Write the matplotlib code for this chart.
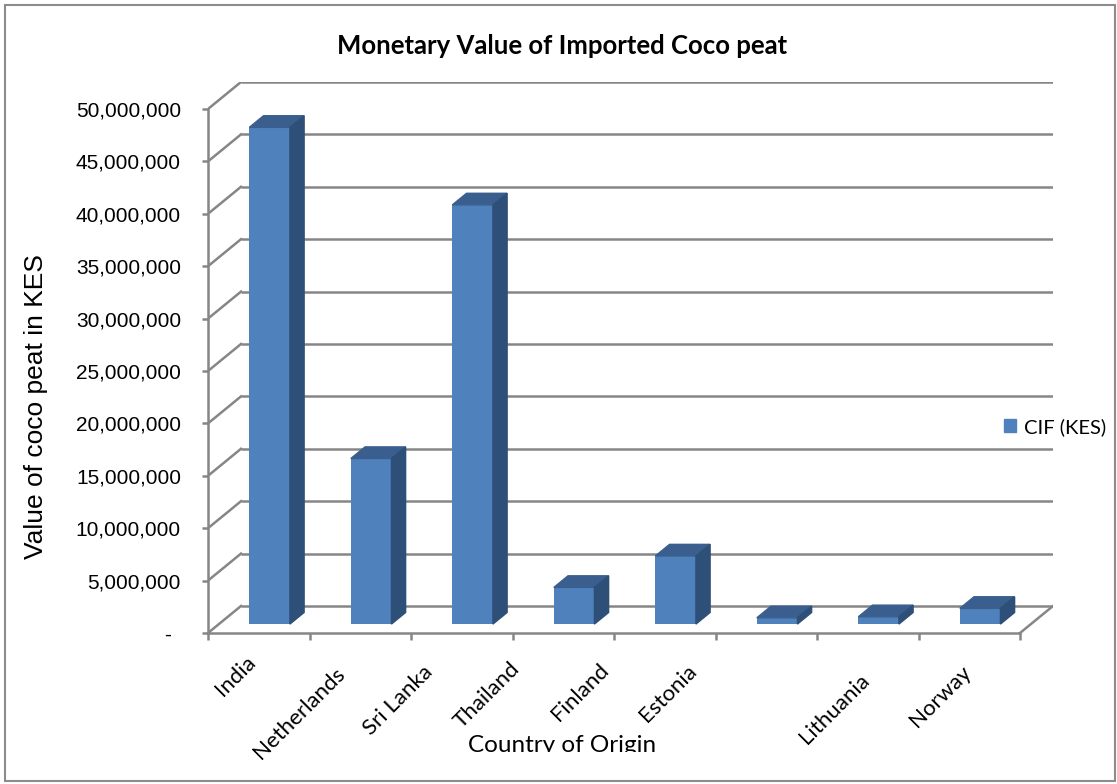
import matplotlib.pyplot as plt
import matplotlib.transforms as mtransforms
from matplotlib.patches import Polygon, Rectangle, Patch
from matplotlib.ticker import FuncFormatter

countries = ["India", "Netherlands", "Sri Lanka", "Thailand",
             "Finland", "Estonia", "Lithuania", "Norway"]
cif_kes = [47_400_000, 15_800_000, 40_000_000, 3_500_000,
           6_500_000, 600_000, 700_000, 1_500_000]
y_ticks = list(range(0, 50_000_001, 5_000_000))

FRONT = "#4F81BD"
TOP = "#3A5F8E"
SIDE = "#2E4F77"
GRID = "#868686"

W, H = 1117, 784
n = len(countries)
y_max = y_ticks[-1]

# oblique "3d" depth of the floor, in data units
DX = 0.325
DY = y_max * 27 / 524
F0, F1 = 0.33, 0.76   # front / back depth of the columns
BW = 0.4

fig = plt.figure(figsize=(W / 100, H / 100), dpi=100)
ax = fig.add_axes([208 / W, 151 / H, (n + DX) * 101.5 / W, 551 / H])
ax.set_xlim(0, n + DX)
ax.set_ylim(0, y_max + DY)

# back wall gridlines and left wall diagonals
for v in y_ticks:
    ax.plot([DX, n + DX], [v + DY, v + DY], color=GRID, lw=1.8, zorder=1,
            solid_capstyle="butt")
    ax.plot([0, DX], [v, v + DY], color=GRID, lw=1.8, zorder=1)
ax.plot([n, n + DX], [0, DY], color=GRID, lw=1.8, zorder=1)

# columns: front face, top and right side
xs = [i + 0.5 + DX * F0 for i in range(n)]
base = DY * F0
ax.bar(xs, cif_kes, width=BW, bottom=base, color=FRONT, zorder=2)
ddx, ddy = DX * (F1 - F0), DY * (F1 - F0)
for x, v in zip(xs, cif_kes):
    x0, x1 = x - BW / 2, x + BW / 2
    y1 = base + v
    ax.add_patch(Polygon([(x0, y1), (x1, y1), (x1 + ddx, y1 + ddy),
                          (x0 + ddx, y1 + ddy)], color=TOP, zorder=2))
    ax.add_patch(Polygon([(x1, base), (x1 + ddx, base + ddy),
                          (x1 + ddx, y1 + ddy), (x1, y1)], color=SIDE, zorder=2))

for s in ["top", "right"]:
    ax.spines[s].set_visible(False)
ax.spines["left"].set_bounds(0, y_max)
ax.spines["bottom"].set_bounds(0, n)
for s in ["left", "bottom"]:
    ax.spines[s].set_color(GRID)
    ax.spines[s].set_linewidth(1.8)
    ax.spines[s].set_zorder(3)

ax.set_yticks(y_ticks)
ax.yaxis.set_major_formatter(FuncFormatter(lambda v, _: "-" if v == 0 else f"{int(v):,}"))
ax.tick_params(axis="y", direction="out", length=4.5, width=1.8, color=GRID,
               pad=15, labelsize=15)
for lbl in ax.get_yticklabels():
    lbl.set_fontfamily("Liberation Sans")
ax.set_xticks(range(n + 1))
ax.tick_params(axis="x", direction="out", length=5, width=1.8, color=GRID,
               labelbottom=False)
zero = ax.yaxis.get_major_ticks()[0].label1
zero.set_transform(zero.get_transform()
                   + mtransforms.ScaledTranslation(-0.1, 0, fig.dpi_scale_trans))

# rotated country labels, centre of each label in pixels
label_px = [(236, 676), (299, 713), (398, 700), (487, 695),
            (580, 692), (668, 693), (835, 709), (940, 696)]
for name, (px, py) in zip(countries, label_px):
    fig.text(px / W, 1 - py / H, name, rotation=45, ha="center", va="center",
             fontsize=16, family="Lato")

fig.text(562 / W, 1 - 46 / H, "Monetary Value of Imported Coco peat",
         ha="center", va="center", fontsize=18.5, fontweight="bold", family="Lato")
xlab = fig.text(562 / W, 1 - 746 / H, "Country of Origin", ha="center",
                va="center", fontsize=17.5, family="Lato")
# the axis title is cut off just below its baseline
xlab.set_clip_box(mtransforms.Bbox.from_extents(0, H - 752, W, H))
fig.text(36 / W, 1 - 407 / H, "Value of coco peat in KES", rotation=90,
         ha="center", va="center", fontsize=19, family="Liberation Sans")

fig.legend(handles=[Patch(color=FRONT, label="CIF (KES)")], loc="center left",
           bbox_to_anchor=(986 / W, 1 - 427 / H), frameon=False,
           handlelength=0.6, handleheight=0.6, handletextpad=0.4,
           prop={"family": "Lato", "size": 14.5})

fig.patches.append(Rectangle((5 / W, 3 / H), 1110 / W, 776 / H,
                             transform=fig.transFigure, fill=False,
                             edgecolor="#8C8C8C", lw=1.5))

fig.savefig("out.png", dpi=100)
